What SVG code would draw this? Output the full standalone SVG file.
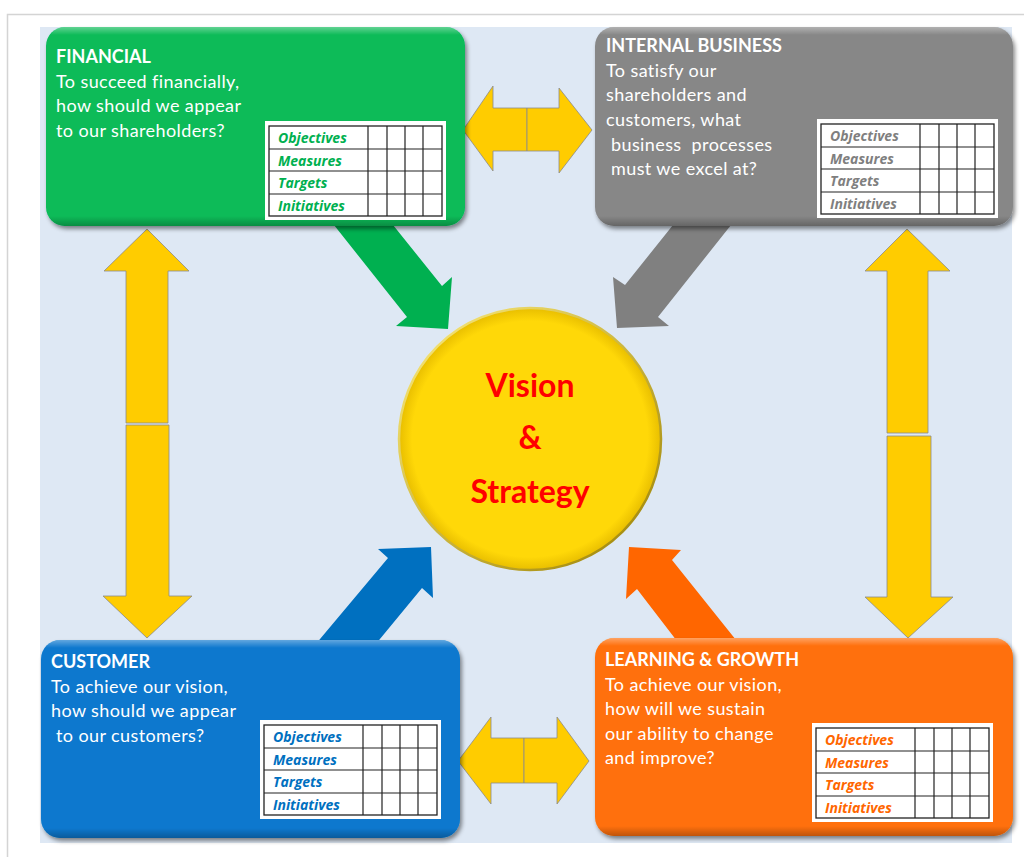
<svg xmlns="http://www.w3.org/2000/svg" xmlns:xlink="http://www.w3.org/1999/xlink" width="1024" height="857" viewBox="0 0 1024 857">
<style>
.title{font-family:Lato,"Liberation Sans",sans-serif;font-weight:bold;font-size:18px;fill:#fff}
.body{font-family:Lato,"Liberation Sans",sans-serif;font-size:18px;letter-spacing:0.4px;fill:#fff}
.lbl{font-family:"Open Sans","Liberation Sans",sans-serif;font-weight:bold;font-style:italic;font-size:14px}
.yel{fill:#FFCC00;stroke:#8a8a8a;stroke-width:0.8}
.center{font-family:Lato,"Liberation Sans",sans-serif;font-weight:bold;font-size:32px;fill:#FF0000;text-anchor:middle}
</style>
<defs>
<filter id="sh" x="-10%" y="-10%" width="125%" height="130%">
<feDropShadow dx="2" dy="3" stdDeviation="2" flood-color="#000" flood-opacity="0.45"/>
</filter>
<linearGradient id="hl" x1="0" y1="0" x2="0" y2="1">
<stop offset="0" stop-color="#fff" stop-opacity="0.35"/>
<stop offset="0.04" stop-color="#fff" stop-opacity="0"/>
<stop offset="0.95" stop-color="#000" stop-opacity="0"/>
<stop offset="1" stop-color="#000" stop-opacity="0.25"/>
</linearGradient>
<radialGradient id="gold" cx="0.5" cy="0.5" r="0.5">
<stop offset="0.9" stop-color="#FFD808"/>
<stop offset="1" stop-color="#E8BE00"/>
</radialGradient>
<linearGradient id="rim" x1="0" y1="0" x2="1" y2="1">
<stop offset="0" stop-color="#FFEE80"/>
<stop offset="1" stop-color="#9A8000"/>
</linearGradient>
<g id="table">
<rect x="-4" y="-5" width="181" height="99" fill="#fff"/>
<rect x="0" y="0" width="173" height="90" fill="none" stroke="#222" stroke-width="1.3"/>
<path d="M99,0V90M118,0V90M136,0V90M154,0V90M0,23H173M0,45H173M0,68H173" stroke="#222" stroke-width="1.2" fill="none"/>
</g>
</defs>
<rect x="7.5" y="14.5" width="1030" height="860" fill="#fff" stroke="#d4d4d4" stroke-width="1.5"/>
<rect x="40" y="27" width="972" height="816" fill="#DEE8F4"/>
<g id="connectors">
<polygon points="330,220 389,220 442,286 452,277 448,329 396,326 407,317" fill="#00B050"/>
<polygon points="677,220 735,220 658,317 669,326 617,328 613,277 625,285" fill="#808080"/>
<polygon points="315,645 375,645 422,588 433,598 431,547 378,549 388,558" fill="#0070C0"/>
<polygon points="680,645 740,645 672,560 681,550 629,547 626,599 637,589" fill="#FF6600"/>
<polygon class="yel" points="527,108 493,108 493,86 463,130 493,171 493,151 527,151"/>
<polygon class="yel" points="527,108 559,108 559,88 592,130 559,173 559,151 527,151"/>
<polygon class="yel" points="524,738 491,738 491,717 458,761 491,804 491,783 524,783"/>
<polygon class="yel" points="524,738 557,738 557,717 589,761 557,804 557,783 524,783"/>
<polygon class="yel" points="126,423 126,271 104,271 147,229 189,271 168,271 168,423"/>
<polygon class="yel" points="126,425 169,425 169,596 192,596 147,638 103,596 126,596"/>
<polygon class="yel" points="887,433 887,271 865,271 907,229 950,271 928,271 928,433"/>
<polygon class="yel" points="887,436 931,436 931,597 953,597 908,638 865,597 887,597"/>
</g>
<g id="financial">
<rect x="46" y="27" width="419" height="199" rx="19" fill="#07BB58" filter="url(#sh)"/>
<rect x="46" y="27" width="419" height="199" rx="19" fill="url(#hl)"/>
<text class="title" x="56" y="63">FINANCIAL</text>
<text class="body" x="56" y="88">To succeed financially,</text>
<text class="body" x="56" y="112">how should we appear</text>
<text class="body" x="56" y="137">to our shareholders?</text>
<use href="#table" x="269" y="126"/>
<g class="lbl" fill="#00B050">
<text x="278" y="143">Objectives</text>
<text x="278" y="166">Measures</text>
<text x="278" y="188">Targets</text>
<text x="278" y="211">Initiatives</text>
</g>
</g>
<g id="internal">
<rect x="595" y="27" width="418" height="199" rx="19" fill="#878787" filter="url(#sh)"/>
<rect x="595" y="27" width="418" height="199" rx="19" fill="url(#hl)"/>
<text class="title" x="606" y="52">INTERNAL BUSINESS</text>
<text class="body" x="606" y="77">To satisfy our</text>
<text class="body" x="606" y="101">shareholders and</text>
<text class="body" x="606" y="126">customers, what</text>
<text class="body" x="611" y="151" xml:space="preserve">business  processes</text>
<text class="body" x="611" y="175">must we excel at?</text>
<use href="#table" x="821" y="124"/>
<g class="lbl" fill="#7F7F7F">
<text x="830" y="141">Objectives</text>
<text x="830" y="164">Measures</text>
<text x="830" y="186">Targets</text>
<text x="830" y="209">Initiatives</text>
</g>
</g>
<g id="customer">
<rect x="41" y="640" width="419" height="198" rx="19" fill="#0878CE" filter="url(#sh)"/>
<rect x="41" y="640" width="419" height="198" rx="19" fill="url(#hl)"/>
<text class="title" x="51" y="668">CUSTOMER</text>
<text class="body" x="51" y="693">To achieve our vision,</text>
<text class="body" x="51" y="717">how should we appear</text>
<text class="body" x="56" y="742">to our customers?</text>
<use href="#table" x="264" y="725"/>
<g class="lbl" fill="#0070C0">
<text x="273" y="742">Objectives</text>
<text x="273" y="765">Measures</text>
<text x="273" y="787">Targets</text>
<text x="273" y="810">Initiatives</text>
</g>
</g>
<g id="learning">
<rect x="595" y="638" width="418" height="198" rx="19" fill="#FF7008" filter="url(#sh)"/>
<rect x="595" y="638" width="418" height="198" rx="19" fill="url(#hl)"/>
<text class="title" x="605" y="666">LEARNING &amp; GROWTH</text>
<text class="body" x="605" y="691">To achieve our vision,</text>
<text class="body" x="605" y="715">how will we sustain</text>
<text class="body" x="605" y="740">our ability to change</text>
<text class="body" x="605" y="764">and improve?</text>
<use href="#table" x="816" y="728"/>
<g class="lbl" fill="#FF6600">
<text x="825" y="745">Objectives</text>
<text x="825" y="768">Measures</text>
<text x="825" y="790">Targets</text>
<text x="825" y="813">Initiatives</text>
</g>
</g>
<g id="vision">
<circle cx="530" cy="439" r="131" fill="url(#gold)" stroke="url(#rim)" stroke-width="2.5"/>
<text class="center" x="530" y="397">Vision</text>
<text class="center" x="530" y="449">&amp;</text>
<text class="center" x="530" y="503">Strategy</text>
</g>
</svg>
